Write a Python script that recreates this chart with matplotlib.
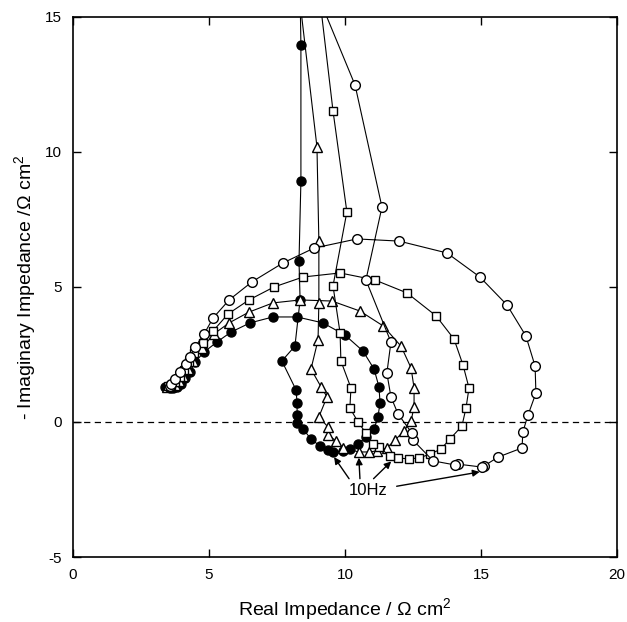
"""Nyquist impedance plot: four spectra with inductive loops (10 Hz marked)."""

import matplotlib
matplotlib.use("Agg")
import matplotlib.pyplot as plt

plt.rcParams["font.family"] = ["Liberation Sans", "DejaVu Sans"]
plt.rcParams["mathtext.fontset"] = "custom"
plt.rcParams["mathtext.rm"] = "Liberation Sans"
plt.rcParams["axes.unicode_minus"] = False

# filled circles (smallest loop)
fc_re = [3.40, 3.55, 3.68, 3.82, 3.97, 4.12, 4.30, 4.49, 4.82, 5.29, 5.81, 6.51, 7.35,
         8.24, 9.19, 10.00, 10.66, 11.07, 11.25, 11.29, 11.21, 11.07, 10.77, 10.48,
         10.18, 9.93, 9.56, 9.38, 9.08, 8.75, 8.46, 8.24, 8.24, 8.24, 8.20, 7.68, 8.16,
         8.35, 8.31, 8.38, 8.38, 8.30]
fc_im = [1.30, 1.26, 1.26, 1.30, 1.41, 1.63, 1.85, 2.22, 2.59, 2.96, 3.33, 3.67, 3.89,
         3.89, 3.67, 3.22, 2.63, 1.96, 1.30, 0.70, 0.19, -0.26, -0.56, -0.81,
         -1.00, -1.07, -1.11, -1.04, -0.89, -0.63, -0.26, -0.04, 0.26, 0.70, 1.19, 2.26, 2.81,
         4.52, 5.96, 8.93, 13.96, 19.0]

# open triangles
tr_re = [3.45, 3.60, 3.74, 3.88, 4.04, 4.23, 4.41, 4.74, 5.18, 5.74, 6.47, 7.35, 8.35,
         9.52, 10.55, 11.40, 12.06, 12.43, 12.54, 12.54, 12.43, 12.17, 11.84, 11.54,
         11.18, 10.88, 10.51, 9.93, 9.67, 9.38, 9.38, 9.04, 9.34, 9.12, 8.75, 9.01, 9.04,
         9.04, 8.97, 7.83]
tr_im = [1.30, 1.33, 1.37, 1.52, 1.70, 1.96, 2.26, 2.74, 3.26, 3.67, 4.07, 4.41, 4.52,
         4.48, 4.11, 3.56, 2.81, 2.00, 1.26, 0.56, 0.04, -0.33, -0.67, -0.96,
         -1.07, -1.11, -1.11, -0.96, -0.70, -0.48, -0.19, 0.19, 0.93, 1.30, 1.96, 3.04, 4.41,
         6.70, 10.19, 20.0]

# open squares
sq_re = [3.50, 3.62, 3.75, 3.93, 4.08, 4.26, 4.45, 4.78, 5.15, 5.70, 6.47, 7.39, 8.46,
         9.82, 11.10, 12.28, 13.35, 14.01, 14.34, 14.56, 14.45, 14.30, 13.86, 13.53,
         13.13, 12.72, 12.35, 11.95, 11.65, 11.25, 11.03, 10.77, 10.48, 10.18, 10.22,
         9.85, 9.82, 9.56, 10.07, 9.56, 8.57]
sq_im = [1.33, 1.37, 1.48, 1.67, 1.93, 2.22, 2.56, 2.93, 3.37, 4.00, 4.52, 5.00, 5.37,
         5.52, 5.26, 4.78, 3.93, 3.07, 2.11, 1.26, 0.52, -0.15, -0.63, -1.00,
         -1.19, -1.33, -1.37, -1.33, -1.26, -0.93, -0.81, -0.41, 0.00, 0.52, 1.26,
         2.26, 3.30, 5.04, 7.78, 11.52, 20.0]

# open circles (largest loop)
oc_re = [3.55, 3.62, 3.75, 3.93, 4.15, 4.30, 4.49, 4.82, 5.15, 5.74, 6.58, 7.72, 8.86,
         10.44, 11.99, 13.75, 14.96, 15.96, 16.65, 16.99, 17.02, 16.73, 16.54, 16.51,
         15.63, 15.11, 15.04, 14.15, 14.04, 13.24, 12.50, 12.46, 11.95, 11.69, 11.54,
         11.69, 10.77, 11.36, 10.37, 8.10]
oc_im = [1.35, 1.41, 1.59, 1.85, 2.15, 2.41, 2.78, 3.26, 3.85, 4.52, 5.19, 5.89, 6.44,
         6.78, 6.70, 6.26, 5.37, 4.33, 3.19, 2.07, 1.07, 0.26, -0.37, -0.96,
         -1.30, -1.63, -1.67, -1.56, -1.59, -1.44, -0.67, -0.41, 0.30, 0.93, 1.81,
         2.96, 5.26, 7.96, 12.48, 18.0]

# 10 Hz points the arrows point at, and where the arrows start
hz_tips = [(9.60, -1.30), (10.51, -1.32), (11.70, -1.46), (14.95, -1.85)]
hz_tails = [(10.15, -2.10), (10.55, -2.10), (11.05, -2.10), (11.90, -2.38)]
hz_label = (10.85, -2.55)

fig = plt.figure(figsize=(6.27, 6.22), dpi=100)
ax = fig.add_axes([0.1164, 0.1045, 0.8676, 0.8682])

ax.axhline(0, color="black", lw=0.9, ls=(0, (5, 3.5)), zorder=1)

line_kw = dict(color="black", lw=0.8, zorder=2)
ax.plot(fc_re, fc_im, marker="o", ms=6.5, mfc="black", mec="black", **line_kw)
ax.plot(tr_re, tr_im, marker="^", ms=7, mfc="white", mec="black", mew=1.0, **line_kw)
ax.plot(sq_re, sq_im, marker="s", ms=6, mfc="white", mec="black", mew=1.0, **line_kw)
ax.plot(oc_re, oc_im, marker="o", ms=7, mfc="white", mec="black", mew=1.0, **line_kw)

for (tx, ty), (sx, sy) in zip(hz_tips, hz_tails, strict=True):
    ax.annotate("", xy=(tx, ty), xytext=(sx, sy),
                arrowprops=dict(arrowstyle="-|>", color="black", lw=1.0,
                                mutation_scale=10, shrinkA=0, shrinkB=0))
ax.text(hz_label[0], hz_label[1], "10Hz", ha="center", va="center", fontsize=12)

ax.set_xlim(0, 20)
ax.set_ylim(-5, 15)
ax.set_xticks([0, 5, 10, 15, 20])
ax.set_yticks([-5, 0, 5, 10, 15])
ax.tick_params(direction="in", length=6, width=1.0, top=True, right=True,
               labelsize=11, pad=8)
for sp in ax.spines.values():
    sp.set_linewidth(1.2)

ax.set_xlabel("Real Impedance / Ω cm$^2$", fontsize=14, labelpad=10)
ax.set_ylabel("- Imaginary Impedance /Ω cm$^2$", fontsize=14, labelpad=4)

fig.savefig("out.png", dpi=100)
